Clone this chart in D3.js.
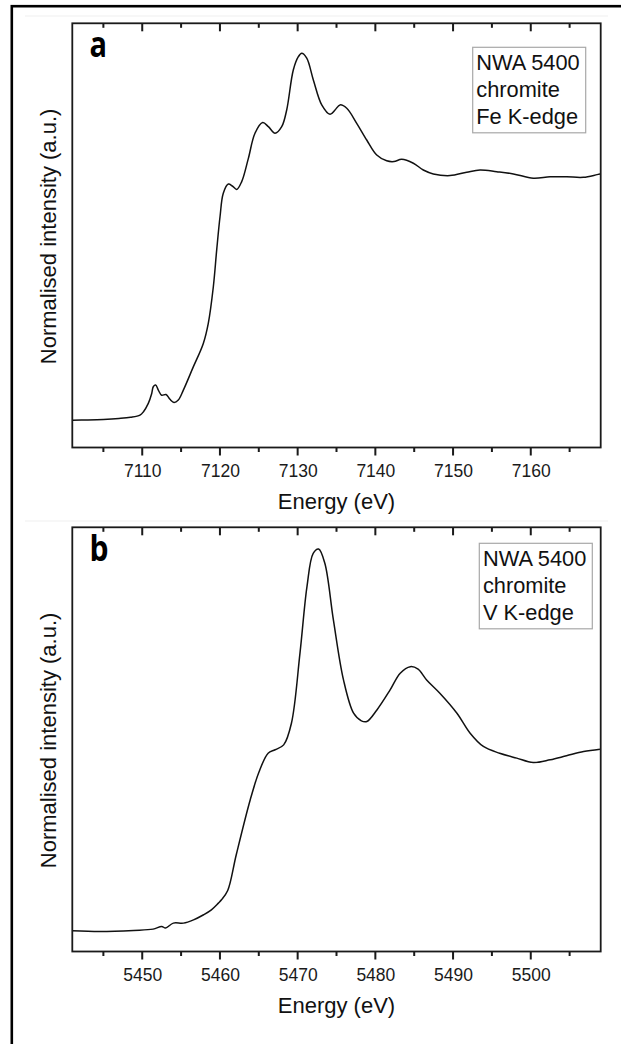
<!DOCTYPE html>
<html>
<head>
<meta charset="utf-8">
<script src="https://cdn.jsdelivr.net/npm/d3@7"></script>
<style>
  html, body { margin: 0; padding: 0; background: #fff; }
  svg { display: block; }
</style>
</head>
<body>
<svg id="chart" width="621" height="1044"></svg>
<script>
// ---------------- DATA ----------------
const panelLabels = ["a", "b"];
const xTitle = "Energy (eV)";
const yTitle = "Normalised intensity (a.u.)";

const legendFe = ["NWA 5400", "chromite", "Fe K-edge"];
const legendV  = ["NWA 5400", "chromite", "V K-edge"];

const feDomain = [7101, 7169];
const vDomain  = [5441, 5509];

const feMajorTicks = [7110, 7120, 7130, 7140, 7150, 7160];
const feMinorTicks = [7105, 7115, 7125, 7135, 7145, 7155, 7165];
const vMajorTicks  = [5450, 5460, 5470, 5480, 5490, 5500];
const vMinorTicks  = [5445, 5455, 5465, 5475, 5485, 5495, 5505];

// Fe K-edge spectrum (energy eV, normalised intensity)
const feEnergy = [7101.0, 7103.0, 7105.0, 7107.0, 7108.5, 7109.71, 7110.14, 7110.78, 7111.22, 7111.42,
  7111.73, 7112.07, 7112.5, 7113.06, 7113.57, 7114.09, 7114.64, 7115.29, 7116.57, 7117.86,
  7118.5, 7119.15, 7119.58, 7120.01, 7120.43, 7121.08, 7121.6, 7122.16, 7122.8, 7123.65,
  7124.51, 7125.5, 7126.23, 7127.09, 7127.95, 7128.59, 7129.44, 7130.09, 7130.52, 7131.17,
  7132.02, 7133.1, 7134.17, 7134.81, 7135.45, 7136.32, 7137.6, 7138.89, 7140.18, 7141.46,
  7142.4, 7143.39, 7144.89, 7146.17, 7147.46, 7149.61, 7151.76, 7153.47, 7155.62, 7157.76,
  7160.33, 7162.48, 7164.63, 7166.77, 7168.91];
const feIntensity = [0.000, 0.001, 0.003, 0.007, 0.012, 0.021, 0.034, 0.069, 0.110, 0.138,
  0.145, 0.124, 0.103, 0.106, 0.086, 0.073, 0.083, 0.124, 0.220, 0.317,
  0.400, 0.551, 0.702, 0.840, 0.937, 0.975, 0.967, 0.953, 0.985, 1.080,
  1.185, 1.229, 1.212, 1.185, 1.212, 1.281, 1.446, 1.501, 1.515, 1.495,
  1.405, 1.302, 1.263, 1.281, 1.302, 1.288, 1.226, 1.157, 1.095, 1.071,
  1.068, 1.077, 1.061, 1.033, 1.017, 1.010, 1.024, 1.033, 1.026, 1.017,
  0.999, 1.005, 1.005, 1.003, 1.017];

// V K-edge spectrum (energy eV, normalised intensity)
const vEnergy = [5441.0, 5444.6, 5448.9, 5451.4, 5452.5, 5453.0, 5454.0, 5455.3, 5456.6, 5457.9,
  5458.9, 5459.8, 5460.2, 5461.0, 5462.1, 5463.9, 5465.0, 5466.2, 5467.1, 5468.2,
  5469.2, 5470.3, 5471.2, 5472.0, 5472.7, 5473.5, 5474.6, 5475.9, 5477.2, 5478.2,
  5478.9, 5480.2, 5481.9, 5483.2, 5484.5, 5485.5, 5486.6, 5488.3, 5490.5, 5492.2,
  5493.9, 5496.0, 5498.2, 5500.3, 5502.5, 5504.6, 5506.8, 5508.9];
const vIntensity = [0.000, -0.004, 0.002, 0.009, 0.024, 0.015, 0.042, 0.042, 0.060, 0.088,
  0.115, 0.152, 0.170, 0.221, 0.418, 0.720, 0.870, 0.976, 0.995, 1.022,
  1.141, 1.526, 1.892, 2.075, 2.099, 2.020, 1.709, 1.379, 1.196, 1.154,
  1.150, 1.214, 1.324, 1.416, 1.452, 1.438, 1.379, 1.306, 1.196, 1.086,
  1.013, 0.976, 0.949, 0.925, 0.940, 0.962, 0.985, 0.998];

// ---------------- LAYOUT ----------------
const svg = d3.select("#chart");
const plotLeft = 72.3, plotRight = 600.7, plotH = 424.2;
const FONT = "'Liberation Sans', Arial, sans-serif";
const AX = "#1a1a1a";

// faint scan edges and outer frame (frame extends beyond the picture on right and bottom)
svg.append("line").attr("x1", 25).attr("x2", 608).attr("y1", 16).attr("y2", 16)
  .attr("stroke", "#efefef").attr("stroke-width", 1);
svg.append("line").attr("x1", 25).attr("x2", 608).attr("y1", 521).attr("y2", 521)
  .attr("stroke", "#efefef").attr("stroke-width", 1);
svg.append("rect").attr("x", 11.8).attr("y", 6.2).attr("width", 700).attr("height", 1200)
  .attr("fill", "none").attr("stroke", "#000").attr("stroke-width", 2.6);

const panels = [
  { top: 23.3, label: panelLabels[0], domain: feDomain, yDomain: [-0.113, 1.639],
    major: feMajorTicks, minor: feMinorTicks, xs: feEnergy, ys: feIntensity,
    legend: legendFe, legX: 472.7, legY: 47.3 },
  { top: 527.3, label: panelLabels[1], domain: vDomain, yDomain: [-0.114, 2.218],
    major: vMajorTicks, minor: vMinorTicks, xs: vEnergy, ys: vIntensity,
    legend: legendV, legX: 479.3, legY: 543.3 }
];

panels.forEach(p => {
  const top = p.top, bottom = top + plotH;
  const x = d3.scaleLinear().domain(p.domain).range([plotLeft, plotRight]);
  const y = d3.scaleLinear().domain(p.yDomain).range([bottom, top]);
  const g = svg.append("g");

  // curve
  const pts = p.xs.map((e, i) => [e, p.ys[i]]);
  const line = d3.line().x(d => x(d[0])).y(d => y(d[1])).curve(d3.curveCatmullRom.alpha(0.5));
  g.append("path").datum(pts).attr("d", line)
    .attr("fill", "none").attr("stroke", "#111").attr("stroke-width", 1.5)
    .attr("stroke-linejoin", "round");

  // bottom axis labels (D3 axis)
  const bAxis = g.append("g").attr("transform", `translate(0,${bottom})`)
    .call(d3.axisBottom(x).tickValues(p.major).tickSize(0).tickFormat(d3.format("d")));
  bAxis.select(".domain").remove();
  bAxis.selectAll("text").attr("y", 29.5).attr("dy", 0)
    .attr("font-family", FONT).attr("font-size", 17.5).attr("fill", AX);

  // tick marks placed by the scale: bottom outward, top inward
  const specs = [];
  p.major.forEach(v => { specs.push({ v, y0: bottom, len: 8 }); specs.push({ v, y0: top, len: 8 }); });
  p.minor.forEach(v => { specs.push({ v, y0: bottom, len: 4.5 }); specs.push({ v, y0: top, len: 4.5 }); });
  g.append("g").attr("class", "tickmarks").selectAll("rect").data(specs).join("rect")
    .attr("x", d => x(d.v) - 1).attr("y", d => d.y0)
    .attr("width", 2).attr("height", d => d.len)
    .attr("fill", AX);

  // frame
  g.append("rect").attr("x", plotLeft).attr("y", top)
    .attr("width", plotRight - plotLeft).attr("height", plotH)
    .attr("fill", "none").attr("stroke", AX).attr("stroke-width", 1.8);

  // x title
  g.append("text").attr("x", (plotLeft + plotRight) / 2).attr("y", bottom + 61)
    .attr("text-anchor", "middle").attr("font-family", FONT).attr("font-size", 22)
    .attr("fill", "#111").text(xTitle);

  // y title
  g.append("text")
    .attr("transform", `translate(55.5,${(top + bottom) / 2 + 1}) rotate(-90)`)
    .attr("text-anchor", "middle").attr("font-family", FONT).attr("font-size", 22)
    .attr("fill", "#111").text(yTitle);

  // panel letter
  g.append("text").attr("x", 89.5).attr("y", top + 33.4)
    .attr("font-family", "'Open Sans', 'DejaVu Sans', sans-serif").attr("font-weight", 700)
    .attr("font-size", 36).attr("fill", "#000")
    .attr("textLength", p.label === "a" ? 17.5 : 19).attr("lengthAdjust", "spacingAndGlyphs")
    .text(p.label);

  // legend box
  const lg = g.append("g").attr("transform", `translate(${p.legX},${p.legY})`);
  lg.append("rect").attr("x", 0).attr("y", 0).attr("width", 113).attr("height", 85.5)
    .attr("fill", "#fff").attr("stroke", "#a8a8a8").attr("stroke-width", 1.2);
  lg.selectAll("text.leg").data(p.legend).join("text").attr("class", "leg")
    .attr("x", 3.6).attr("y", (d, i) => 22.7 + i * 27)
    .attr("font-family", FONT).attr("font-size", 21.8).attr("fill", "#111")
    .text(d => d);
});
</script>
</body>
</html>
